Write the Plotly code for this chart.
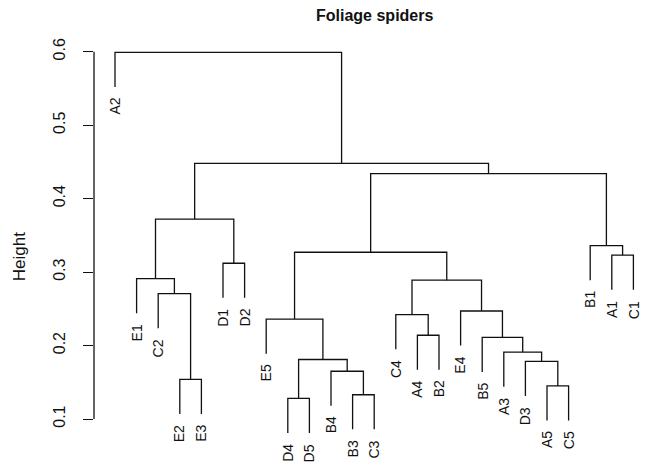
import plotly.graph_objects as go

# ---- data ----
leaf_order = ["A2", "E1", "C2", "E2", "E3", "D1", "D2", "E5", "D4", "D5", "B4", "B3", "C3",
              "C4", "A4", "B2", "E4", "B5", "A3", "D3", "A5", "C5", "B1", "A1", "C1"]
# merges: (left child, right child, height); children are leaf labels or "m<k>" (1-based merge id)
merge_left = ["E2", "D4", "B3", "A5", "B4", "D3", "m2", "A3", "A4", "B5", "E5", "C4",
              "E4", "C2", "m12", "E1", "D1", "A1", "m11", "B1", "m16", "m19", "m21", "A2"]
merge_right = ["E3", "D5", "C3", "C5", "m3", "m4", "m5", "m6", "B2", "m8", "m7", "m9",
               "m10", "m1", "m13", "m14", "D2", "C1", "m15", "m18", "m17", "m20", "m22", "m23"]
merge_height = [0.154, 0.128, 0.133, 0.145, 0.165, 0.1785, 0.181, 0.191, 0.214, 0.211, 0.236, 0.242,
                0.247, 0.2706, 0.289, 0.291, 0.312, 0.323, 0.327, 0.336, 0.372, 0.434, 0.448, 0.599]
tick_vals = [0.1, 0.2, 0.3, 0.4, 0.5, 0.6]
title_text = "Foliage spiders"
y_title = "Height"

# ---- layout geometry ----
W, H = 645, 472
ml, mr, mt, mb = 94, 0, 30, 10
PW, PH = W - ml - mr, H - mt - mb
px_per_leaf = 21.6
px_per_unit = 734.6
x_lo = 1 - 21.0 / px_per_leaf
x_hi = x_lo + PW / px_per_leaf
y_hi = 0.6 + (51.7 - mt) / px_per_unit
y_lo = y_hi - PH / px_per_unit

hang = 0.1 * (max(merge_height) - min(merge_height))

leaf_x = {lab: i + 1 for i, lab in enumerate(leaf_order)}
node_x, node_y = {}, {}
xs, ys = [], []
leaf_bottom = {}


def child_pos(c, h):
    if c.startswith("m"):
        return node_x[c], node_y[c]
    leaf_bottom[c] = h - hang
    return leaf_x[c], h - hang


for k, (l, r, h) in enumerate(zip(merge_left, merge_right, merge_height), start=1):
    x1, y1 = child_pos(l, h)
    x2, y2 = child_pos(r, h)
    xs += [x1, x1, x2, x2, None]
    ys += [y1, h, h, y2, None]
    node_x["m%d" % k] = (x1 + x2) / 2
    node_y["m%d" % k] = h

fig = go.Figure()
fig.add_trace(go.Scatter(x=xs, y=ys, mode="lines", line=dict(color="#111111", width=1.3),
                         hoverinfo="skip", showlegend=False))

font = "Liberation Sans, Arial, Helvetica, sans-serif"
annotations = []
for lab in leaf_order:
    annotations.append(dict(x=leaf_x[lab], y=leaf_bottom[lab], xref="x", yref="y", text=lab,
                            textangle=-90, showarrow=False, xanchor="center", yanchor="top",
                            yshift=-9, font=dict(family=font, size=14, color="#111111")))
annotations.append(dict(x=(19.5 - ml) / PW, y=0.6 - (256.7 - 51.7) / px_per_unit,
                        xref="paper", yref="y", text=y_title, textangle=-90, showarrow=False,
                        xanchor="center", yanchor="middle",
                        font=dict(family=font, size=17, color="#111111")))
annotations.append(dict(x=(374 - ml) / PW, y=1 + (mt - 16) / PH, xref="paper", yref="paper",
                        text="<b>%s</b>" % title_text, showarrow=False, xanchor="center",
                        yanchor="middle", font=dict(family=font, size=16, color="#111111")))

fig.update_layout(
    width=W, height=H, margin=dict(l=ml, r=mr, t=mt, b=mb),
    paper_bgcolor="white", plot_bgcolor="white",
    annotations=annotations,
    shapes=[dict(type="line", xref="paper", yref="y", x0=0, x1=0, y0=min(tick_vals), y1=max(tick_vals),
                 line=dict(color="#111111", width=1.3))],
    xaxis=dict(range=[x_lo, x_hi], visible=False, fixedrange=True),
    yaxis=dict(range=[y_lo, y_hi], showgrid=False, zeroline=False, showline=False,
               tickmode="array", tickvals=tick_vals, ticktext=["%.1f" % v for v in tick_vals],
               ticks="outside", ticklen=10, tickwidth=1.3, tickcolor="#111111",
               tickangle=-90, ticklabelstandoff=12,
               tickfont=dict(family=font, size=16, color="#111111")),
)
fig.write_html("out.html")
